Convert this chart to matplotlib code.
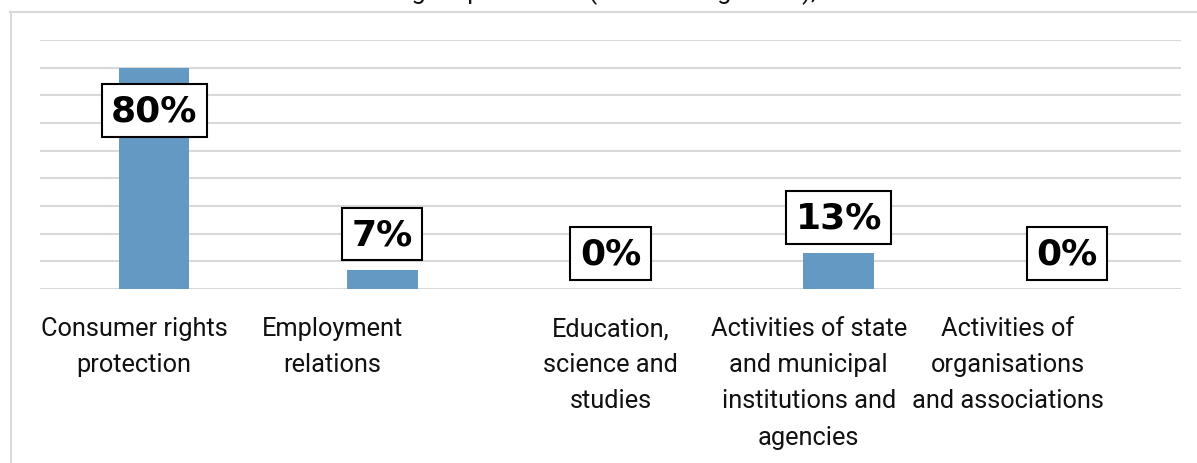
import matplotlib
matplotlib.use("Agg")
import matplotlib.pyplot as plt
from matplotlib.lines import Line2D
from matplotlib.transforms import ScaledTranslation

categories = [
    "Consumer rights\nprotection",
    "Employment\nrelations",
    "Education,\nscience and\nstudies",
    "Activities of state\nand municipal\ninstitutions and\nagencies",
    "Activities of\norganisations\nand associations",
]
shares = [80, 7, 0, 13, 0]
y_ticks = list(range(0, 100, 10))

# horizontal nudge of each category label, in pixels
label_shift_px = [-20, -50, 0, -30, -59]

W, H, DPI = 1197, 464, 100
fig = plt.figure(figsize=(W / DPI, H / DPI), dpi=DPI)
ax = fig.add_axes([40 / W, 174 / H, (1181 - 40) / W, (290 - 41) / H])

grid_col = "#d9d9d9"
bar_col = "#6499c4"
txt_font = ["Roboto", "DejaVu Sans"]

x = list(range(len(categories)))
bars = ax.bar(x, shares, width=0.31, color=bar_col, zorder=2)

ax.set_xlim(-0.5, len(categories) - 0.5)
ax.set_ylim(0, 90)
ax.set_yticks(y_ticks)
ax.yaxis.grid(True, color=grid_col, linewidth=1.5, zorder=0)
ax.tick_params(axis="y", left=False, labelleft=False)
ax.tick_params(axis="x", bottom=False, pad=16)
for s in ax.spines.values():
    s.set_visible(False)

ax.set_xticks(x)
ax.set_xticklabels(categories, fontsize=18.3, family=txt_font,
                   linespacing=1.64, color="#111111")
for lab, dx in zip(ax.get_xticklabels(), label_shift_px):
    lab.set_transform(lab.get_transform() + ScaledTranslation(dx / DPI, 0, fig.dpi_scale_trans))

# value labels in boxes; the tallest bar carries its label inside
for xi, v in zip(x, shares):
    off = -30.6 if v > 50 else 25.6
    ax.annotate(f"{v}%", (xi, v), xytext=(0, off), textcoords="offset points",
                ha="center", va="center", fontsize=26, fontweight="bold",
                family="DejaVu Sans", color="black", zorder=4,
                bbox=dict(boxstyle="square,pad=0.26", fc="white", ec="black", lw=1.5))

# outer frame (left and top edges)
fig.add_artist(Line2D([10.5 / W, 10.5 / W], [0, (H - 13) / H], transform=fig.transFigure,
                      color=grid_col, lw=1.5))
fig.add_artist(Line2D([10 / W, 1], [(H - 13) / H, (H - 13) / H], transform=fig.transFigure,
                      color=grid_col, lw=1.5))

# running text above the figure frame
fig.text(816 / W, (H + 0.5) / H, "cases concerned consumer rights protection (see also Figure 11),",
         fontsize=18.3, family=txt_font, va="baseline", ha="right", color="#111111")

fig.savefig("out.png", dpi=DPI)
